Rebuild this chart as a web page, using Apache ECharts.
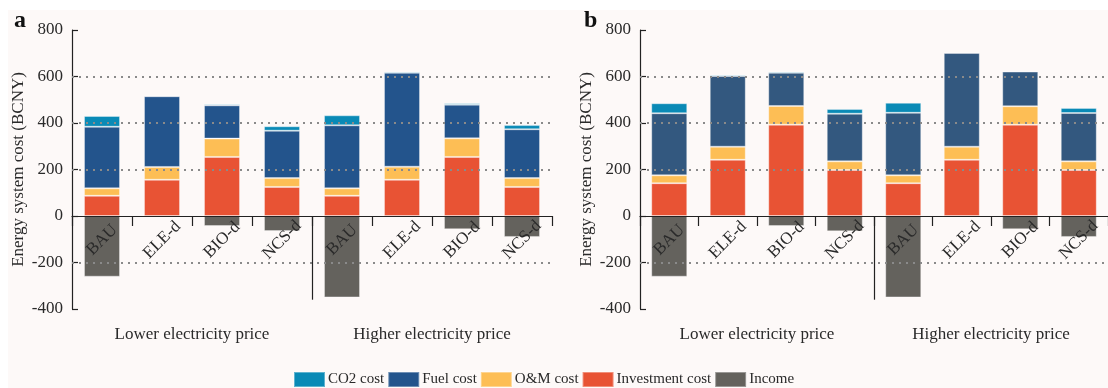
<!DOCTYPE html>
<html><head><meta charset="utf-8">
<script src="https://cdn.jsdelivr.net/npm/echarts@6/dist/echarts.min.js"></script>
<style>html,body{margin:0;padding:0;background:#fff}#c{width:1108px;height:388px}</style>
</head><body><div id="c"></div><script>
// ---- data ----
const categories = ["BAU","ELE-d","BIO-d","NCS-d","BAU","ELE-d","BIO-d","NCS-d"];
const groupLabels = ["Lower electricity price","Higher electricity price"];
const yMin = -400, yMax = 800, yStep = 200;
const gridValues = [600, 400, 200, -200];
const separatorBottom = -360;
const seriesNames = ["CO2 cost","Fuel cost","O&M cost","Investment cost","Income"];

// panel a
const investA = [87,156,254,125, 87,156,254,125];
const omA     = [32,55,79,38, 32,56,80,38];
const fuelA   = [265,304,143,204, 271,404,145,210];
const co2A    = [46,4,6,19, 43,5,6,18];
const incomeA = [-261,-3,-43,-65, -350,-4,-57,-90];

// panel b
const investB = [141,242,393,198, 141,242,393,198];
const omB     = [34,56,80,37, 34,56,79,37];
const fuelB   = [267,304,143,205, 269,403,149,208];
const co2B    = [43,6,6,20, 43,4,4,22];
const incomeB = [-261,-3,-43,-66, -350,-4,-57,-90];

// ---- styling ----
const FONT = '"Liberation Serif","DejaVu Serif",serif';
const TXT = '#2a2a2a';
const colors = {co2:'#0a8ab6', fuelA:'#23548c', fuelB:'#33587f', om:'#fdbe55', inv:'#e85334', inc:'#64625d'};
const GRID_TOP = 30, GRID_H = 279;
const zeroOffset = -GRID_H * (0 - yMin) / (yMax - yMin); // lift the category axis to the zero line

const chart = echarts.init(document.getElementById('c'), null, {renderer:'canvas'});

function bar(name, data, color, xi, yi, stack){
  return {name, type:'bar', data, xAxisIndex:xi, yAxisIndex:yi, stack, barWidth:36, z:2,
    itemStyle:{color, borderColor:'rgba(255,255,255,0.35)', borderWidth:1}};
}
function panelSeries(xi, yi, inv, om, fuel, co2, inc, fuelColor, tag){
  return [
    {type:'line', data:[], xAxisIndex:xi, yAxisIndex:yi, z:1, silent:true,
     markLine:{silent:true, symbol:['none','none'], label:{show:false},
       lineStyle:{type:[2,5], color:'#8a8a8a', width:2},
       data: gridValues.map(v=>({yAxis:v}))}},
    bar(seriesNames[3], inv, colors.inv, xi, yi, 's'+tag),
    bar(seriesNames[2], om, colors.om, xi, yi, 's'+tag),
    bar(seriesNames[1], fuel, fuelColor, xi, yi, 's'+tag),
    bar(seriesNames[0], co2, colors.co2, xi, yi, 's'+tag),
    bar(seriesNames[4], inc, colors.inc, xi, yi, 's'+tag)
  ];
}
function mainX(gi){
  return {type:'category', gridIndex:gi, data:categories, position:'bottom', offset:zeroOffset, z:5,
    axisLine:{onZero:false, lineStyle:{color:'#222', width:1.2}},
    axisTick:{show:true, length:10, lineStyle:{color:'#222', width:1.2}},
    axisLabel:{interval:0, rotate:45, align:'center', verticalAlign:'middle', margin:24,
      fontFamily:FONT, fontSize:17, color:TXT}};
}
function groupX(gi){
  return {type:'category', gridIndex:gi, data:groupLabels, position:'bottom',
    axisLine:{show:false, onZero:false}, axisTick:{show:false},
    axisLabel:{interval:0, margin:17, fontFamily:FONT, fontSize:17, color:TXT}};
}
function yAx(gi){
  return {type:'value', gridIndex:gi, min:yMin, max:yMax, interval:yStep,
    name:'Energy system cost (BCNY)', nameLocation:'middle', nameGap:45,
    nameTextStyle:{fontFamily:FONT, fontSize:17, color:TXT},
    axisLine:{show:true, lineStyle:{color:'#222', width:1.2}},
    axisTick:{show:true, inside:true, length:6, lineStyle:{color:'#222', width:1.2}},
    axisLabel:{margin:9, fontFamily:FONT, fontSize:17, color:TXT},
    splitLine:{show:false}};
}

const option = {
  animation:false,
  backgroundColor:'#ffffff',
  title:[
    {text:'a', left:9, top:4, textStyle:{fontFamily:FONT, fontWeight:'bold', fontSize:24, color:'#111'}},
    {text:'b', left:579, top:4, textStyle:{fontFamily:FONT, fontWeight:'bold', fontSize:24, color:'#111'}}
  ],
  legend:{data:seriesNames, left:293, top:371, padding:0, itemWidth:31, itemHeight:15, itemGap:3, icon:'rect',
    textStyle:{fontFamily:FONT, fontSize:15, color:TXT, padding:[0,0,0,-2]}},
  grid:[
    {left:72, top:GRID_TOP, width:480, height:GRID_H},
    {left:640, top:GRID_TOP, width:480, height:GRID_H}
  ],
  xAxis:[mainX(0), groupX(0), mainX(1), groupX(1)],
  yAxis:[yAx(0), yAx(1)],
  graphic:[{type:'rect', shape:{x:8, y:10, width:1100, height:378}, style:{fill:'#fdf9f8'}, z:-100, silent:true}],
  series:[
    ...panelSeries(0, 0, investA, omA, fuelA, co2A, incomeA, colors.fuelA, 'a'),
    ...panelSeries(2, 1, investB, omB, fuelB, co2B, incomeB, colors.fuelB, 'b')
  ]
};
chart.setOption(option);

// separator lines between scenario groups, placed through the axes' scales
const seps = [[0,0],[2,1]].map(([xi, yi])=>{
  const p3 = chart.convertToPixel({xAxisIndex:xi, yAxisIndex:yi}, [3, 0]);
  const p4 = chart.convertToPixel({xAxisIndex:xi, yAxisIndex:yi}, [4, separatorBottom]);
  const x = Math.round((p3[0]+p4[0])/2)+0.5;
  return {type:'line', shape:{x1:x, y1:p3[1], x2:x, y2:p4[1]}, style:{stroke:'#222', lineWidth:1.2}, z:10, silent:true};
});
chart.setOption({graphic:[option.graphic[0], ...seps]});
</script></body></html>
